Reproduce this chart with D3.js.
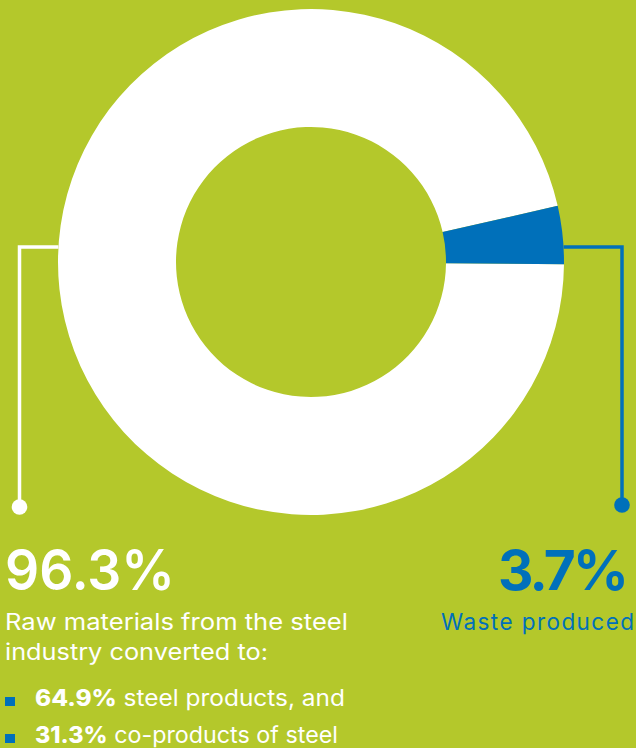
<!DOCTYPE html>
<html>
<head>
<meta charset="utf-8">
<script src="https://cdn.jsdelivr.net/npm/d3@7"></script>
<style>
  html, body { margin: 0; padding: 0; background: #b4c82b; }
  svg { display: block; }
  text { font-family: Inter, "Open Sans", sans-serif; }
</style>
</head>
<body>
<svg id="chart" width="636" height="748"></svg>
<script>
// Shares of incoming raw material (percent)
const sliceNames = ["Raw materials from the steel industry", "Waste produced"];
const sliceValues = [96.3, 3.7];
const sliceColors = ["#ffffff", "#0070ba"];

// Breakdown of the converted share (percent)
const breakdownValues = [64.9, 31.3];
const breakdownLabels = ["steel products, and", "co-products of steel"];

const introLines = ["Raw materials from the steel", "industry converted to:"];

const W = 636, H = 748;
const green = "#b4c82b";
const blue = "#0070ba";
const cx = 311, cy = 262, outerR = 253, innerR = 135;
const leaderY = 247;

const svg = d3.select("#chart");
svg.append("rect").attr("width", W).attr("height", H).attr("fill", green);

const fmt = v => d3.format(".1f")(v) + "%";

// Donut: the waste slice ends just past the 3 o'clock position
const endDeg = 90.5;
const a0 = endDeg * Math.PI / 180;
const pie = d3.pie().sort(null).startAngle(a0).endAngle(a0 + 2 * Math.PI);
const arc = d3.arc().innerRadius(innerR).outerRadius(outerR);

svg.append("g")
  .attr("transform", `translate(${cx},${cy})`)
  .selectAll("path")
  .data(pie(sliceValues))
  .join("path")
  .attr("d", arc)
  .attr("fill", (d, i) => sliceColors[i]);

// Leader lines from the ring edge down to the value labels
const dxEdge = Math.sqrt(outerR * outerR - (cy - leaderY) * (cy - leaderY));
const leaders = [
  { x0: cx - dxEdge, x1: 19.5, y1: 507, color: "#ffffff" },
  { x0: cx + dxEdge, x1: 622, y1: 505, color: blue }
];
const lg = svg.append("g");
leaders.forEach(l => {
  lg.append("path")
    .attr("d", `M${l.x0},${leaderY}H${l.x1}V${l.y1}`)
    .attr("fill", "none")
    .attr("stroke", l.color)
    .attr("stroke-width", 3.5);
  lg.append("circle")
    .attr("cx", l.x1).attr("cy", l.y1).attr("r", 7.8)
    .attr("fill", l.color);
});

// Helper: stretch a text element to a given width
function fit(sel, width) {
  sel.attr("textLength", width).attr("lengthAdjust", "spacingAndGlyphs");
  return sel;
}

// Helper: right-align a text by spacing its letters to span a given width
function spanRight(sel, right, width) {
  const str = sel.text();
  const natural = sel.node().getComputedTextLength();
  const ls = (width - natural) / Math.max(1, str.length - 1);
  sel.attr("letter-spacing", ls);
  const len = sel.node().getComputedTextLength();
  sel.attr("x", right - (len - ls));
  return sel;
}

// Left block: converted share
fit(svg.append("text")
  .attr("x", 5).attr("y", 590)
  .attr("fill", "#fff")
  .attr("font-size", 56)
  .attr("font-weight", 600)
  .text(fmt(sliceValues[0])), 170);

const introWidths = [343, 263];
introLines.forEach((t, i) => {
  fit(svg.append("text")
    .attr("x", 5).attr("y", 630 + i * 30)
    .attr("fill", "#fff")
    .attr("font-size", 22.5)
    .attr("font-weight", 400)
    .text(t), introWidths[i]);
});

const bulletWidths = [310, 303];
breakdownValues.forEach((v, i) => {
  const y = 706 + i * 37;
  svg.append("rect")
    .attr("x", 5).attr("y", y - 9)
    .attr("width", 10).attr("height", 9)
    .attr("fill", blue);
  const t = svg.append("text")
    .attr("x", 35).attr("y", y)
    .attr("fill", "#fff")
    .attr("font-size", 22.5);
  t.append("tspan").attr("font-weight", 800).text(fmt(v));
  t.append("tspan").attr("font-weight", 400).text(" " + breakdownLabels[i]);
  fit(t, bulletWidths[i]);
});

// Right block: waste share
spanRight(svg.append("text")
  .attr("y", 590)
  .attr("fill", blue)
  .attr("font-size", 55)
  .attr("font-weight", 700)
  .text(fmt(sliceValues[1])), 629, 131);

spanRight(svg.append("text")
  .attr("y", 630)
  .attr("fill", blue)
  .attr("font-size", 22.5)
  .attr("font-weight", 400)
  .text(sliceNames[1]), 634, 193);
</script>
</body>
</html>
